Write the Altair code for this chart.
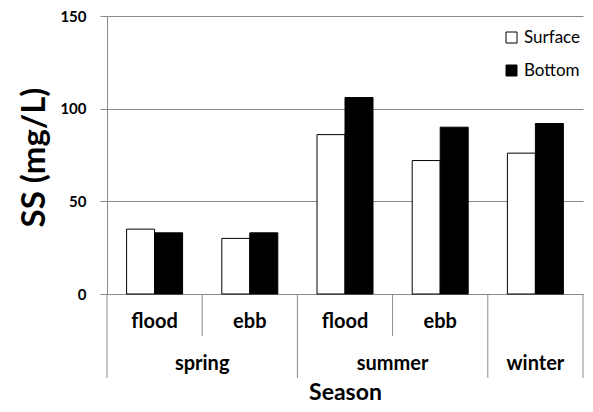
import altair as alt
import pandas as pd

cats = ["spring flood", "spring ebb", "summer flood", "summer ebb", "winter"]
series = ["Surface", "Bottom"]
surface = [35, 30, 86, 72, 76]
bottom = [33, 33, 106, 90, 92]

sub_cats = ["spring flood", "spring ebb", "summer flood", "summer ebb"]
sub_labels = ["flood", "ebb", "flood", "ebb"]

season_split_cats = ["spring flood", "summer flood"]
season_split_labels = ["spring", "summer"]
season_single_cats = ["winter"]
season_single_labels = ["winter"]

short_div_cats = ["spring ebb", "summer ebb"]
full_div_cats = ["spring flood", "summer flood", "winter"]
end_div_cats = ["winter"]

rows = []
for c, s, b in zip(cats, surface, bottom):
    rows.append({"cat": c, "series": "Surface", "value": s})
    rows.append({"cat": c, "series": "Bottom", "value": b})
df = pd.DataFrame(rows)

W, H = 476, 278
FONT = "Lato"
GRAY = "#8a8a8a"

xscale = alt.Scale(domain=cats, paddingInner=0, paddingOuter=0)

bars = alt.Chart(df).mark_bar(stroke="black", strokeWidth=1).encode(
    x=alt.X("cat:N", sort=cats, scale=xscale,
            axis=alt.Axis(labels=False, ticks=False, domain=False, grid=False,
                          title="Season", titleFont=FONT, titleFontSize=23,
                          titleFontWeight="bold", titleColor="black",
                          titleY=105, titleBaseline="alphabetic")),
    xOffset=alt.XOffset("series:N", sort=series,
                        scale=alt.Scale(domain=series, paddingOuter=0.7, paddingInner=0)),
    y=alt.Y("value:Q", scale=alt.Scale(domain=[0, 150]),
            axis=alt.Axis(values=[0, 50, 100, 150], title="SS (mg/L)",
                          titleFont=FONT, titleFontSize=33, titleFontWeight="bold",
                          titleColor="black", titleX=-73, titleY=141,
                          titleBaseline="middle", titleAngle=270,
                          labelFont=FONT, labelFontSize=15, labelFontWeight="bold",
                          labelColor="black", labelPadding=14,
                          tickSize=7, tickColor=GRAY, domainColor=GRAY,
                          gridColor=GRAY, gridOpacity=1)),
    fill=alt.Fill("series:N", sort=series,
                  scale=alt.Scale(domain=series, range=["white", "black"]),
                  legend=alt.Legend(title=None, orient="none", legendX=396, legendY=13,
                                    symbolType="square", symbolSize=121,
                                    symbolStrokeColor="black", symbolStrokeWidth=1,
                                    labelFont=FONT, labelFontSize=17, labelColor="black",
                                    labelOffset=4, rowPadding=15, padding=0)),
)

TXT = dict(font=FONT, fontSize=20, fontWeight="bold", baseline="alphabetic", color="black")

sub_df = pd.DataFrame({"cat": sub_cats, "label": sub_labels})
sub_text = alt.Chart(sub_df).mark_text(**TXT).encode(
    x=alt.X("cat:N", sort=cats, scale=xscale),
    y=alt.value(312),
    text="label:N",
)

split_df = pd.DataFrame({"cat": season_split_cats, "label": season_split_labels})
split_text = alt.Chart(split_df).mark_text(**TXT).encode(
    x=alt.X("cat:N", sort=cats, scale=xscale, bandPosition=1),
    y=alt.value(354),
    text="label:N",
)

single_df = pd.DataFrame({"cat": season_single_cats, "label": season_single_labels})
single_text = alt.Chart(single_df).mark_text(**TXT).encode(
    x=alt.X("cat:N", sort=cats, scale=xscale, bandPosition=0.5),
    y=alt.value(354),
    text="label:N",
)

short_rules = alt.Chart(pd.DataFrame({"cat": short_div_cats})).mark_rule(color=GRAY).encode(
    x=alt.X("cat:N", sort=cats, scale=xscale, bandPosition=0),
    y=alt.value(H), y2=alt.value(320),
)
full_rules = alt.Chart(pd.DataFrame({"cat": full_div_cats})).mark_rule(color=GRAY).encode(
    x=alt.X("cat:N", sort=cats, scale=xscale, bandPosition=0),
    y=alt.value(H), y2=alt.value(362),
)
end_rules = alt.Chart(pd.DataFrame({"cat": end_div_cats})).mark_rule(color=GRAY).encode(
    x=alt.X("cat:N", sort=cats, scale=xscale, bandPosition=1),
    y=alt.value(H), y2=alt.value(362),
)

chart = alt.layer(bars, short_rules, full_rules, end_rules, sub_text, split_text, single_text).properties(
    width=W, height=H,
    autosize=alt.AutoSizeParams(type="none"),
    padding={"left": 99, "top": 8, "right": 2, "bottom": 110},
    background="white",
).configure_view(stroke=None)

chart.save("out.html", embed_options={"renderer": "svg", "actions": False})
